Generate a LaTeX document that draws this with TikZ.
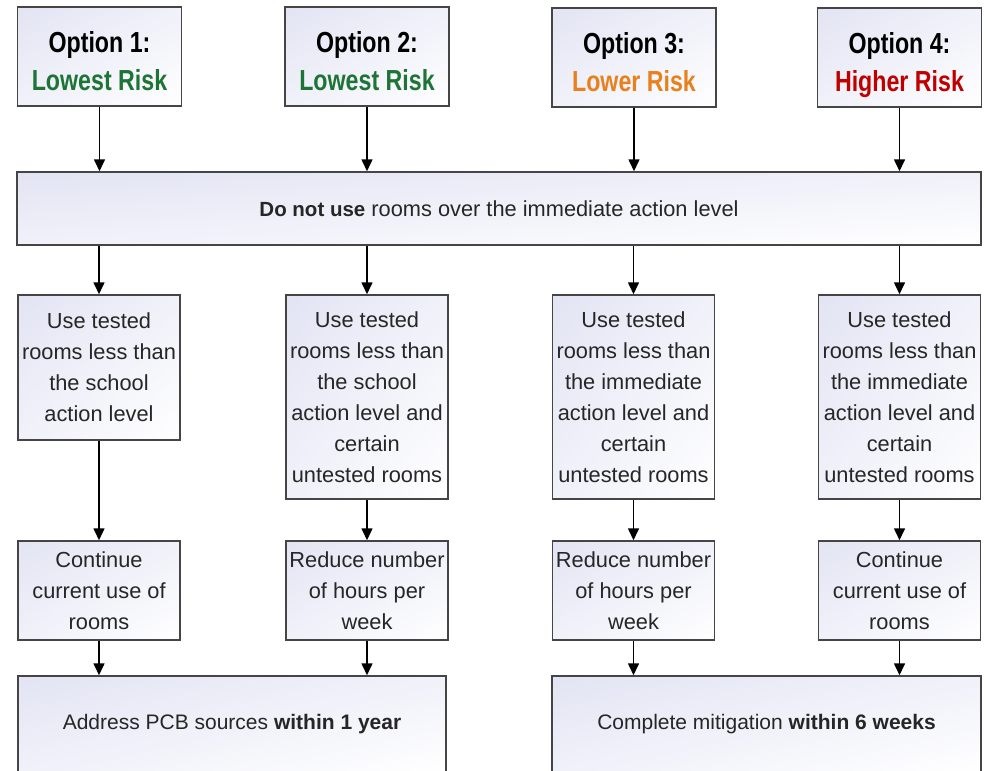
\documentclass[tikz,border=0pt]{standalone}
\usepackage{fontspec}
\setmainfont{Liberation Sans}
\newfontfamily\headfont[FakeStretch=0.8]{Liberation Sans}
\usetikzlibrary{arrows.meta,shadings}
\definecolor{boxline}{HTML}{454545}
\definecolor{shadeA}{HTML}{E2E4F3}
\definecolor{shadeB}{HTML}{F0F1F9}
\definecolor{riskgreen}{HTML}{1E7436}
\definecolor{riskorange}{HTML}{E8801E}
\definecolor{riskred}{HTML}{C00000}
\newcommand{\hdtop}{\rule{0pt}{37pt}}
\tikzset{
  gbox/.style={draw=boxline, line width=1.5pt, rectangle, inner sep=0pt, align=center, shade,
    upper left=shadeA, upper right=shadeB, lower left=shadeB, lower right=white,
    font=\fontsize{21.8}{31}\selectfont, text=black!85},
  headbox/.style={gbox, minimum width=164pt, minimum height=99pt,
    font=\headfont\bfseries\fontsize{29}{38}\selectfont, text=black},
  colbox/.style={gbox, minimum width=162pt},
  conn/.style={line width=1.6pt, -{Triangle[length=12pt,width=11pt]}}
}
\begin{document}
\begin{tikzpicture}[x=1pt,y=-1pt]
\useasboundingbox (0,0) rectangle (986,771);
\begin{scope}
\clip (0,0) rectangle (986,771);
% headers
\node[headbox] (h1) at (99.5,56.5) {\hdtop Option 1:\\\textcolor{riskgreen}{Lowest Risk\vphantom{g}}};
\node[headbox] (h2) at (367,56.5) {\hdtop Option 2:\\\textcolor{riskgreen}{Lowest Risk\vphantom{g}}};
\node[headbox] (h3) at (634,57.5) {\hdtop Option 3:\\\textcolor{riskorange}{Lower Risk\vphantom{g}}};
\node[headbox] (h4) at (899.5,57.5) {\hdtop Option 4:\\\textcolor{riskred}{Higher Risk}};
% wide box
\node[gbox, minimum width=964pt, minimum height=73pt] (w) at (499,208.5)
  {{\bfseries\fontsize{20.5}{28}\selectfont Do not use} rooms over the immediate action level};
% row 3
\node[colbox, minimum height=145pt] (a1) at (99,367.5) {Use tested\\rooms less than\\the school\\action level};
\node[colbox, minimum height=204pt] (a2) at (367,397) {Use tested\\rooms less than\\the school\\action level and\\certain\\untested rooms};
\node[colbox, minimum height=204pt] (a3) at (633.5,397) {Use tested\\rooms less than\\the immediate\\action level and\\certain\\untested rooms};
\node[colbox, minimum height=204pt] (a4) at (899.5,397) {Use tested\\rooms less than\\the immediate\\action level and\\certain\\untested rooms};
% row 4
\node[colbox, minimum height=99pt] (b1) at (99,590.5) {Continue\\current use of\\rooms};
\node[colbox, minimum height=99pt] (b2) at (367,590.5) {Reduce number\\of hours per\\week};
\node[colbox, minimum height=99pt] (b3) at (633.5,590.5) {Reduce number\\of hours per\\week};
\node[colbox, minimum height=99pt] (b4) at (899.5,590.5) {Continue\\current use of\\rooms};
% bottom
\node[gbox, minimum width=428pt, minimum height=96pt, font=\fontsize{21}{31}\selectfont] (c1) at (232,724) {Address PCB sources {\bfseries within 1 year}};
\node[gbox, minimum width=429pt, minimum height=96pt, font=\fontsize{21}{31}\selectfont] (c2) at (766.5,724) {Complete mitigation {\bfseries within 6 weeks}};
\end{scope}
% connectors
\foreach \i in {1,2,3,4} {
  \draw[conn] (h\i.south) -- (h\i.south |- w.north);
  \draw[conn] (a\i.north |- w.south) -- (a\i.north);
  \draw[conn] (a\i.south) -- (b\i.north);
}
\draw[conn] (b1.south) -- (b1.south |- c1.north);
\draw[conn] (b2.south) -- (b2.south |- c1.north);
\draw[conn] (b3.south) -- (b3.south |- c2.north);
\draw[conn] (b4.south) -- (b4.south |- c2.north);
\end{tikzpicture}
\end{document}
